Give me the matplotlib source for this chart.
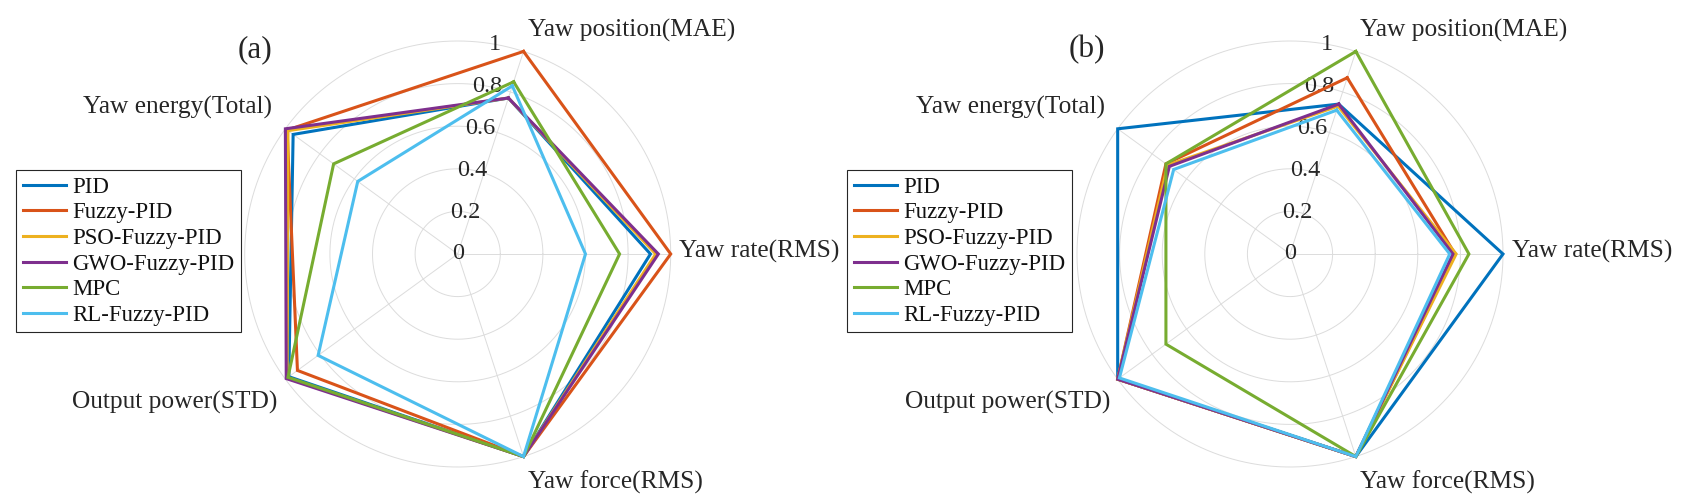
import numpy as np
import matplotlib
matplotlib.use('Agg')
import matplotlib.pyplot as plt

# ---------------- data ----------------
metrics = ['Yaw position(MAE)', 'Yaw rate(RMS)', 'Yaw force(RMS)',
           'Output power(STD)', 'Yaw energy(Total)']
methods = ['PID', 'Fuzzy-PID', 'PSO-Fuzzy-PID', 'GWO-Fuzzy-PID', 'MPC', 'RL-Fuzzy-PID']

# panel (a): values in metric order
a_PID = [0.77, 0.905, 1.00, 0.98, 0.955]
a_Fuzzy = [1.00, 1.00, 1.00, 0.93, 0.99]
a_PSO = [0.77, 0.93, 1.00, 0.99, 0.985]
a_GWO = [0.77, 0.942, 1.00, 0.995, 1.00]
a_MPC = [0.85, 0.76, 1.00, 0.985, 0.72]
a_RL = [0.83, 0.60, 1.00, 0.81, 0.58]

# panel (b)
b_PID = [0.74, 1.00, 1.00, 1.00, 1.00]
b_Fuzzy = [0.87, 0.775, 1.00, 1.00, 0.72]
b_PSO = [0.73, 0.78, 1.00, 1.00, 0.71]
b_GWO = [0.74, 0.765, 1.00, 1.00, 0.70]
b_MPC = [1.00, 0.84, 1.00, 0.72, 0.72]
b_RL = [0.71, 0.75, 1.00, 0.99, 0.675]

tick_values = [0, 0.2, 0.4, 0.6, 0.8, 1]
tick_labels = ['0', '0.2', '0.4', '0.6', '0.8', '1']

# ---------------- style ----------------
colors = ['#0072BD', '#D95319', '#EDB120', '#7E2F8E', '#77AC30', '#4DBEEE']
axis_angles = np.deg2rad([72, 0, -72, -144, 144])
tick_angle = np.deg2rad(80)
txt_color = '#262626'
grid_color = '#dcdcdc'
FONT = ['Liberation Serif', 'DejaVu Serif']
plt.rcParams['font.family'] = FONT

W, H = 1685, 503
R = 213.0  # pixels for radius 1
fig = plt.figure(figsize=(W / 100, H / 100), dpi=100)

# label anchor positions (in radius units) and alignment
label_pos = [(0.33, 1.05, 'left'), (1.04, 0.01, 'left'), (0.33, -1.07, 'left'),
             (-0.845, -0.695, 'right'), (-0.87, 0.69, 'right')]


def make_panel(left_px, right_px, cx_px, cy_px, data, tag, legend_left_px):
    ax = fig.add_axes([left_px / W, 0, (right_px - left_px) / W, 1])
    ax.set_xlim(-(cx_px - left_px) / R, (right_px - cx_px) / R)
    ax.set_ylim(-(H - cy_px) / R, cy_px / R)
    ax.axis('off')
    t = np.linspace(0, 2 * np.pi, 400)
    for v in tick_values[1:]:
        ax.plot(v * np.cos(t), v * np.sin(t), color=grid_color, lw=0.7, zorder=1)
    for a in axis_angles:
        ax.plot([0, np.cos(a)], [0, np.sin(a)], color=grid_color, lw=0.7, zorder=1)
    for v, s in zip(tick_values, tick_labels):
        ax.text(v * np.cos(tick_angle), v * np.sin(tick_angle), s, ha='center', va='center',
                fontsize=17.5, color=txt_color, zorder=2)
    for vals, c, m in zip(data, colors, methods):
        v = np.array(vals + [vals[0]])
        ang = np.append(axis_angles, axis_angles[0])
        ax.plot(v * np.cos(ang), v * np.sin(ang), color=c, lw=2.2, label=m, zorder=3,
                solid_joinstyle='miter')
    for (x, y, ha), name in zip(label_pos, metrics):
        ax.text(x, y, name, ha=ha, va='center', fontsize=18.3, color=txt_color)
    ax.text(-0.953, 0.958, tag, ha='center', va='center', fontsize=22.5, color=txt_color)
    leg = ax.legend(loc='upper left', bbox_to_anchor=(legend_left_px / W, 1 - 170 / H),
                    bbox_transform=fig.transFigure, borderaxespad=0, fontsize=16.4,
                    fancybox=False, framealpha=1, edgecolor=txt_color,
                    handlelength=1.9, handletextpad=0.25, labelspacing=0.2,
                    borderpad=0.3)
    leg.get_frame().set_linewidth(0.8)
    for txt in leg.get_texts():
        txt.set_color('#111111')
    return ax


make_panel(0, 842, 457.7, 254, [a_PID, a_Fuzzy, a_PSO, a_GWO, a_MPC, a_RL], '(a)', 16)
make_panel(842, 1685, 1290, 254, [b_PID, b_Fuzzy, b_PSO, b_GWO, b_MPC, b_RL], '(b)', 847)

fig.savefig('out.png', dpi=100)
